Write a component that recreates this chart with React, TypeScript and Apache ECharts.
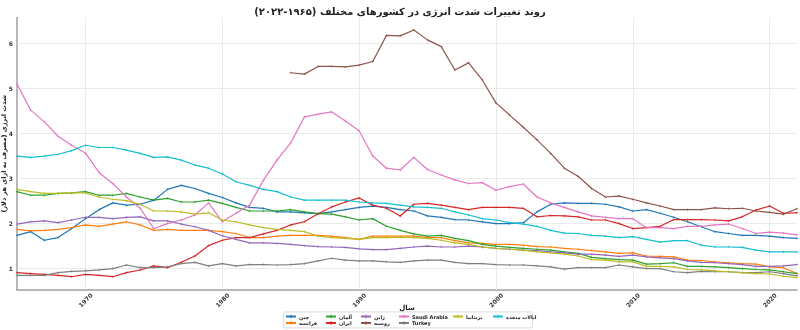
import React, { useEffect, useRef } from 'react';
import * as echarts from 'echarts';

const FONT = 'DejaVu Sans';

const years: number[] = [];
for (let y = 1965; y <= 2022; y++) years.push(y);

const gridYears = [1970, 1980, 1990, 2000, 2010, 2020];
const gridValues = [1, 2, 3, 4, 5, 6];

const seriesNames = ['چین', 'فرانسه', 'آلمان', 'ایران', 'ژاپن', 'روسیه', 'Saudi Arabia', 'Turkey', 'بریتانیا', 'ایالات متحده'];
const seriesColors = ['#1f77b4', '#ff7f0e', '#2ca02c', '#d62728', '#9467bd', '#8c564b', '#e377c2', '#7f7f7f', '#bcbd22', '#17becf'];

const china = [1.73, 1.81, 1.62, 1.68, 1.88, 2.10, 2.30, 2.45, 2.40, 2.42, 2.51, 2.75, 2.84, 2.77, 2.66, 2.57, 2.45, 2.35, 2.33, 2.25, 2.25, 2.23, 2.21, 2.25, 2.30, 2.35, 2.38, 2.35, 2.30, 2.27, 2.16, 2.13, 2.08, 2.07, 2.03, 1.99, 1.99, 2.01, 2.25, 2.42, 2.45, 2.44, 2.44, 2.42, 2.36, 2.27, 2.30, 2.22, 2.13, 2.03, 1.92, 1.81, 1.77, 1.73, 1.73, 1.71, 1.68, 1.66];
const france = [1.86, 1.83, 1.84, 1.86, 1.90, 1.96, 1.93, 1.98, 2.03, 1.96, 1.84, 1.86, 1.84, 1.84, 1.84, 1.81, 1.77, 1.68, 1.68, 1.71, 1.73, 1.73, 1.73, 1.71, 1.68, 1.64, 1.71, 1.71, 1.71, 1.71, 1.68, 1.68, 1.61, 1.56, 1.55, 1.53, 1.53, 1.51, 1.48, 1.47, 1.44, 1.42, 1.39, 1.36, 1.33, 1.34, 1.27, 1.26, 1.25, 1.18, 1.17, 1.14, 1.12, 1.10, 1.09, 1.03, 1.01, 0.88];
const germany = [2.70, 2.62, 2.62, 2.66, 2.67, 2.70, 2.62, 2.62, 2.66, 2.58, 2.51, 2.55, 2.47, 2.47, 2.51, 2.44, 2.35, 2.27, 2.27, 2.27, 2.30, 2.25, 2.21, 2.20, 2.14, 2.07, 2.10, 1.93, 1.84, 1.76, 1.71, 1.73, 1.66, 1.61, 1.53, 1.49, 1.46, 1.44, 1.42, 1.40, 1.36, 1.33, 1.24, 1.21, 1.19, 1.18, 1.09, 1.10, 1.12, 1.04, 1.04, 1.03, 1.01, 0.99, 0.97, 0.96, 0.92, 0.88];
const iran = [0.90, 0.88, 0.86, 0.84, 0.81, 0.86, 0.84, 0.81, 0.90, 0.96, 1.05, 1.01, 1.13, 1.27, 1.50, 1.62, 1.68, 1.68, 1.76, 1.84, 1.96, 2.03, 2.21, 2.36, 2.47, 2.56, 2.40, 2.33, 2.16, 2.42, 2.44, 2.40, 2.35, 2.30, 2.35, 2.35, 2.35, 2.33, 2.14, 2.17, 2.16, 2.14, 2.07, 2.07, 1.99, 1.88, 1.90, 1.93, 2.08, 2.08, 2.08, 2.07, 2.05, 2.14, 2.29, 2.38, 2.22, 2.23];
const japan = [1.98, 2.03, 2.05, 2.01, 2.07, 2.13, 2.13, 2.10, 2.13, 2.14, 2.05, 2.05, 1.98, 1.92, 1.84, 1.72, 1.64, 1.56, 1.56, 1.55, 1.53, 1.50, 1.48, 1.47, 1.46, 1.43, 1.41, 1.41, 1.44, 1.47, 1.49, 1.47, 1.47, 1.49, 1.47, 1.44, 1.42, 1.40, 1.39, 1.36, 1.34, 1.31, 1.31, 1.29, 1.26, 1.29, 1.25, 1.23, 1.21, 1.16, 1.13, 1.12, 1.10, 1.08, 1.04, 1.04, 1.05, 1.08];
const russiaStart = 1985;
const russia = [5.34, 5.31, 5.48, 5.48, 5.47, 5.51, 5.59, 6.17, 6.16, 6.29, 6.07, 5.92, 5.40, 5.56, 5.18, 4.67, 4.40, 4.13, 3.85, 3.55, 3.22, 3.04, 2.77, 2.58, 2.60, 2.53, 2.45, 2.38, 2.30, 2.30, 2.30, 2.34, 2.32, 2.33, 2.27, 2.24, 2.20, 2.32];
const saudi = [5.09, 4.51, 4.25, 3.93, 3.73, 3.56, 3.12, 2.88, 2.58, 2.33, 1.88, 1.99, 2.07, 2.18, 2.45, 2.03, 2.22, 2.40, 2.95, 3.40, 3.78, 4.36, 4.42, 4.47, 4.27, 4.05, 3.49, 3.22, 3.18, 3.46, 3.19, 3.07, 2.96, 2.88, 2.90, 2.73, 2.81, 2.87, 2.58, 2.45, 2.35, 2.25, 2.16, 2.13, 2.10, 2.10, 1.90, 1.90, 1.88, 1.93, 1.93, 1.96, 1.98, 1.88, 1.77, 1.80, 1.78, 1.74];
const turkey = [0.84, 0.84, 0.84, 0.90, 0.93, 0.94, 0.96, 0.99, 1.07, 1.01, 1.01, 1.03, 1.10, 1.13, 1.05, 1.10, 1.05, 1.08, 1.08, 1.07, 1.08, 1.10, 1.16, 1.22, 1.18, 1.16, 1.16, 1.14, 1.13, 1.16, 1.18, 1.18, 1.13, 1.10, 1.10, 1.08, 1.07, 1.07, 1.05, 1.03, 0.98, 1.01, 1.01, 1.01, 1.07, 1.03, 0.99, 0.99, 0.92, 0.90, 0.93, 0.92, 0.92, 0.90, 0.90, 0.92, 0.88, 0.83];
const uk = [2.75, 2.70, 2.66, 2.66, 2.67, 2.67, 2.58, 2.53, 2.50, 2.42, 2.27, 2.27, 2.25, 2.20, 2.23, 2.07, 2.03, 1.96, 1.90, 1.86, 1.84, 1.81, 1.71, 1.68, 1.66, 1.64, 1.68, 1.68, 1.69, 1.68, 1.66, 1.62, 1.56, 1.53, 1.47, 1.44, 1.42, 1.40, 1.36, 1.34, 1.31, 1.27, 1.19, 1.18, 1.14, 1.14, 1.04, 1.04, 1.03, 0.97, 0.96, 0.94, 0.92, 0.90, 0.88, 0.87, 0.82, 0.79];
const usa = [3.49, 3.46, 3.49, 3.53, 3.61, 3.73, 3.68, 3.68, 3.62, 3.55, 3.46, 3.47, 3.40, 3.29, 3.22, 3.09, 2.92, 2.84, 2.75, 2.70, 2.58, 2.51, 2.51, 2.51, 2.51, 2.47, 2.45, 2.44, 2.40, 2.36, 2.35, 2.33, 2.25, 2.18, 2.10, 2.07, 2.01, 1.98, 1.93, 1.84, 1.78, 1.77, 1.73, 1.71, 1.68, 1.70, 1.64, 1.58, 1.61, 1.61, 1.51, 1.47, 1.47, 1.46, 1.40, 1.36, 1.36, 1.36];

const seriesValues = [china, france, germany, iran, japan, russia, saudi, turkey, uk, usa];
const seriesStart = [1965, 1965, 1965, 1965, 1965, russiaStart, 1965, 1965, 1965, 1965];

const legendColumns = [[0, 1], [2, 3], [4, 5], [6, 7], [8], [9]];
const legendLefts = [285, 325, 360, 398, 452, 492];

const TITLE = 'روند تغییرات شدت انرژی در کشورهای مختلف (۱۹۶۵-۲۰۲۲)\u200F';
const Y_NAME = 'شدت انرژی (مصرف به ازای هر دلار)\u200F';
const X_NAME = 'سال';

const PLUS = 'path://M-0.2,-1H0.2V-0.2H1V0.2H0.2V1H-0.2V0.2H-1V-0.2H-0.2Z';

export default function App() {
  const ref = useRef<HTMLDivElement>(null);
  useEffect(() => {
    if (!ref.current) return;
    const chart = echarts.init(ref.current, undefined, { renderer: 'svg' });
    const series: any[] = seriesNames.map((name, k) => ({
      name,
      type: 'line',
      z: 2,
      data: seriesValues[k].map((v, i) => [seriesStart[k] + i, v]),
      symbol: PLUS,
      symbolSize: 2.5,
      showSymbol: true,
      lineStyle: { width: 1.2, color: seriesColors[k] },
      itemStyle: { color: seriesColors[k] },
      emphasis: { disabled: true },
    }));
    series[0].markLine = {
      silent: true,
      z: 1,
      symbol: ['none', 'none'],
      label: { show: false },
      lineStyle: { color: '#e6e6e6', width: 0.8, type: 'solid' },
      data: [
        ...gridYears.map((y) => ({ xAxis: y })),
        ...gridValues.map((v) => ({ yAxis: v })),
      ],
    };
    chart.setOption({
      animation: false,
      textStyle: { fontFamily: FONT },
      title: {
        text: TITLE,
        left: 'center',
        top: 1,
        textStyle: { fontFamily: FONT, fontSize: 10, fontWeight: 'bold', color: '#222' },
      },
      grid: { left: 17, right: 3, top: 17.6, bottom: 40, containLabel: false, outerBoundsMode: 'none' },
      xAxis: {
        type: 'value',
        min: 1965,
        max: 2022,
        splitNumber: 6,
        name: X_NAME,
        nameLocation: 'middle',
        nameGap: 14,
        nameMoveOverlap: false,
        nameTextStyle: { fontFamily: FONT, fontSize: 7, fontWeight: 'bold', color: '#222' },
        axisLine: { show: true, lineStyle: { color: '#a0a0a0', width: 1.5 } },
        axisTick: { show: false },
        splitLine: { show: false },
        axisLabel: {
          rotate: 45,
          align: 'center',
          verticalAlign: 'middle',
          margin: 10,
          fontSize: 6,
          fontWeight: 'bold',
          color: '#333',
          fontFamily: FONT,
          formatter: (v: number) => (v % 10 === 0 ? String(v) : ''),
        },
      },
      yAxis: {
        type: 'value',
        min: 0.515,
        max: 6.565,
        splitNumber: 6,
        name: Y_NAME,
        nameLocation: 'middle',
        nameGap: 10,
        nameRotate: 90,
        nameMoveOverlap: false,
        nameTextStyle: { fontFamily: FONT, fontSize: 6.5, fontWeight: 'bold', color: '#222' },
        axisLine: { show: true, lineStyle: { color: '#a0a0a0', width: 1.5 } },
        axisTick: { show: false },
        splitLine: { show: false },
        axisLabel: {
          margin: 4,
          fontSize: 6,
          fontWeight: 'bold',
          color: '#333',
          fontFamily: FONT,
          formatter: (v: number) => (Number.isInteger(v) ? String(v) : ''),
        },
      },
      legend: legendColumns.map((col, i) => ({
        data: col.map((k) => seriesNames[k]),
        orient: 'vertical',
        left: legendLefts[i],
        top: 314,
        padding: 0,
        itemWidth: 10,
        itemHeight: 5,
        itemGap: 1.5,
        selectedMode: false,
        textStyle: { fontFamily: FONT, fontSize: 5, fontWeight: 'bold', color: '#222', padding: [0, 0, 0, -2] },
      })),
      graphic: [
        {
          type: 'rect',
          left: 283,
          top: 311.5,
          z: -1,
          silent: true,
          shape: { width: 249, height: 16, r: 2 },
          style: { fill: 'rgba(255,255,255,0.85)', stroke: '#d0d0d0', lineWidth: 0.8 },
        },
      ],
      series,
    });
    return () => chart.dispose();
  }, []);
  return <div ref={ref} style={{ position: 'fixed', left: 0, top: 0, width: 800, height: 330 }} />;
}
